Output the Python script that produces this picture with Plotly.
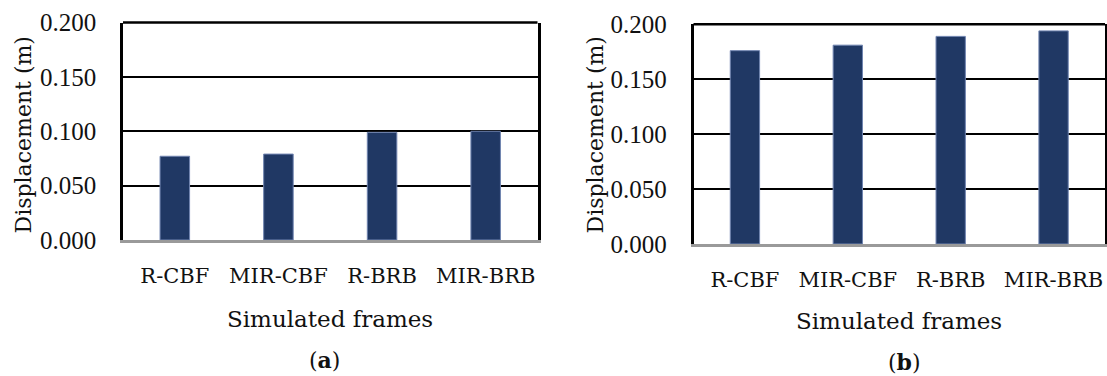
import plotly.graph_objects as go

categories = ["R-CBF", "MIR-CBF", "R-BRB", "MIR-BRB"]
disp_a = [0.077, 0.079, 0.099, 0.100]
disp_b = [0.176, 0.181, 0.189, 0.194]
y_ticks = [0.0, 0.05, 0.10, 0.15, 0.20]

W, H = 1107, 376
BAR = "#203864"
SERIF = "DejaVu Serif"
NUM = "Liberation Serif"

fig = go.Figure()
fig.add_trace(go.Bar(x=categories, y=disp_a, xaxis="x", yaxis="y", width=0.285,
                     marker=dict(color=BAR, line=dict(color="#7084b0", width=1)),
                     showlegend=False, hoverinfo="x+y"))
fig.add_trace(go.Bar(x=categories, y=disp_b, xaxis="x2", yaxis="y2", width=0.285,
                     marker=dict(color=BAR, line=dict(color="#7084b0", width=1)),
                     showlegend=False, hoverinfo="x+y"))

def xax(domain, anchor):
    return dict(domain=domain, anchor=anchor, type="category",
                showline=True, linecolor="#9a9a9a", linewidth=2.5,
                showgrid=False, ticks="outside", ticklen=15, tickcolor="rgba(0,0,0,0)",
                tickfont=dict(family=SERIF, size=21, color="#111"),
                layer="below traces", automargin=False, fixedrange=True)

def yax(domain, anchor):
    return dict(domain=domain, anchor=anchor, range=[0, 0.2],
                tickvals=y_ticks, tickformat=".3f",
                showline=True, mirror=True, linecolor="black", linewidth=2.5,
                showgrid=True, gridcolor="black", gridwidth=2,
                zeroline=False, ticks="outside", ticklen=19, tickcolor="rgba(0,0,0,0)",
                tickfont=dict(family=NUM, size=25, color="#111"),
                automargin=False, fixedrange=True)

lx = [123 / W, 537.5 / W]
rx = [693.5 / W, 1105 / W]
ly = [1 - 240 / H, 1 - 22.5 / H]
ry = [1 - 244 / H, 1 - 24.3 / H]

fig.update_layout(
    width=W, height=H,
    margin=dict(l=0, r=0, t=0, b=0),
    paper_bgcolor="white", plot_bgcolor="white",
    xaxis=xax(lx, "y"), yaxis=yax(ly, "x"),
    xaxis2=xax(rx, "y2"), yaxis2=yax(ry, "x2"),
    bargap=0.7,
)

# top border of each frame
for xr, yr in (("x domain", "y domain"), ("x2 domain", "y2 domain")):
    fig.add_shape(type="line", xref=xr, yref=yr, x0=0, x1=1, y0=1, y1=1,
                  line=dict(color="black", width=2.5), layer="above")

def ann(text, px, py, size=22, angle=0):
    fig.add_annotation(text=text, x=px / W, y=1 - py / H, xref="paper", yref="paper",
                       xanchor="center", yanchor="middle", showarrow=False, textangle=angle,
                       font=dict(family=SERIF, size=size, color="#111"))

ann("Displacement (m)", 22.5, 135, 22, -90)
ann("Displacement (m)", 594.5, 135, 22, -90)
ann("Simulated frames", 329.5, 318.5, 23)
ann("Simulated frames", 899, 321, 23)
ann("(<b>a</b>)", 324, 360, 22)
ann("(<b>b</b>)", 904, 362, 22)

fig.write_html("out.html", config={"displayModeBar": False},
               post_script="document.body.style.margin='0';document.body.style.overflow='hidden';")
